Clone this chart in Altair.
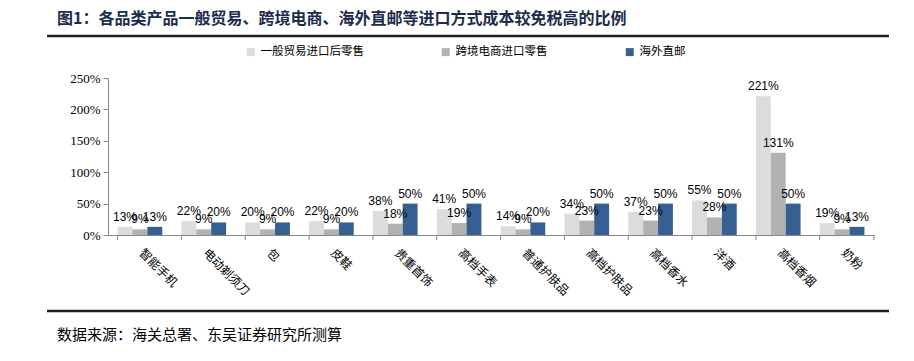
import altair as alt
import pandas as pd

categories = ["智能手机", "电动剃须刀", "包", "皮鞋", "贵重首饰", "高档手表",
              "普通护肤品", "高档护肤品", "高档香水", "洋酒", "高档香烟", "奶粉"]
series = ["一般贸易进口后零售", "跨境电商进口零售", "海外直邮"]
general = [13, 22, 20, 22, 38, 41, 14, 34, 37, 55, 221, 19]
crossborder = [9, 9, 9, 9, 18, 19, 9, 23, 23, 28, 131, 9]
direct = [13, 20, 20, 20, 50, 50, 20, 50, 50, 50, 50, 13]
colors = ["#dcdcdc", "#b2b2b2", "#366092"]
y_ticks = [0, 0.5, 1.0, 1.5, 2.0, 2.5]
title_text = "图1：各品类产品一般贸易、跨境电商、海外直邮等进口方式成本较免税高的比例"
source_text = "数据来源：海关总署、东吴证券研究所测算"

rows = []
for s, vals in zip(series, [general, crossborder, direct]):
    for c, v in zip(categories, vals):
        rows.append({"cat": c, "series": s, "value": v / 100, "label": f"{v}%"})
df = pd.DataFrame(rows)

W, H = 766, 157
CJK = "Noto Sans CJK SC"

base = alt.Chart(df).encode(
    x=alt.X("cat:N", sort=categories,
            scale=alt.Scale(paddingInner=0.3, paddingOuter=0.15),
            axis=alt.Axis(title=None, labelAngle=45, labelAlign="left",
                          labelBaseline="top", ticks=False, domainColor="#888",
                          labelFont=CJK, labelFontSize=12, labelColor="#000",
                          labelPadding=12, labelOffset=5)),
    xOffset=alt.XOffset("series:N", sort=series),
    y=alt.Y("value:Q", scale=alt.Scale(domain=[0, 2.5]),
            axis=alt.Axis(title=None, values=y_ticks, format=".0%", grid=False,
                          domainColor="#888", tickColor="#888", tickSize=5,
                          labelFont="Liberation Serif", labelFontSize=13,
                          labelColor="#000", labelPadding=3)),
)

bars = base.mark_bar().encode(
    color=alt.Color("series:N", sort=series,
                    scale=alt.Scale(domain=series, range=colors),
                    legend=alt.Legend(orient="none", legendX=137, legendY=-32,
                                      direction="horizontal", title=None,
                                      symbolType="square", symbolSize=64,
                                      symbolStrokeWidth=0,
                                      labelFont=CJK, labelFontSize=11.5,
                                      labelColor="#000", columnPadding=76))
)

labels = base.mark_text(baseline="alphabetic", dy=-6, fontSize=12,
                        font="Liberation Sans", color="#000").encode(text="label:N")

ticks_df = pd.DataFrame({"cat": categories})
xticks = alt.Chart(ticks_df).mark_rule(color="#888").encode(
    x=alt.X("cat:N", sort=categories, bandPosition=0),
    y=alt.value(H), y2=alt.value(H + 5))
end_tick = alt.Chart(pd.DataFrame({"a": [0]})).mark_rule(color="#888").encode(
    x=alt.value(W), y=alt.value(H), y2=alt.value(H + 5))

title = alt.Chart(pd.DataFrame({"t": [title_text]})).mark_text(
    align="left", baseline="middle", font=CJK, fontSize=16, fontWeight="bold",
    color="#1d2c4e").encode(x=alt.value(-51), y=alt.value(-59), text="t:N")
source = alt.Chart(pd.DataFrame({"t": [source_text]})).mark_text(
    align="left", baseline="middle", font=CJK, fontSize=15,
    color="#000").encode(x=alt.value(-51), y=alt.value(257), text="t:N")
line_top = alt.Chart(pd.DataFrame({"a": [0]})).mark_rule(color="#222", strokeWidth=2.5).encode(
    x=alt.value(-61), x2=alt.value(781), y=alt.value(-42))
line_bot = alt.Chart(pd.DataFrame({"a": [0]})).mark_rule(color="#222", strokeWidth=2.5).encode(
    x=alt.value(-61), x2=alt.value(781), y=alt.value(233))

chart = alt.layer(bars, labels, xticks, end_tick, title, source, line_top, line_bot).properties(
    width=W, height=H,
    padding={"left": 100, "top": 70, "right": 32, "bottom": 110},
    autosize="none",
).configure_view(stroke=None)

chart.save("out.html", embed_options={"renderer": "svg", "actions": False})
